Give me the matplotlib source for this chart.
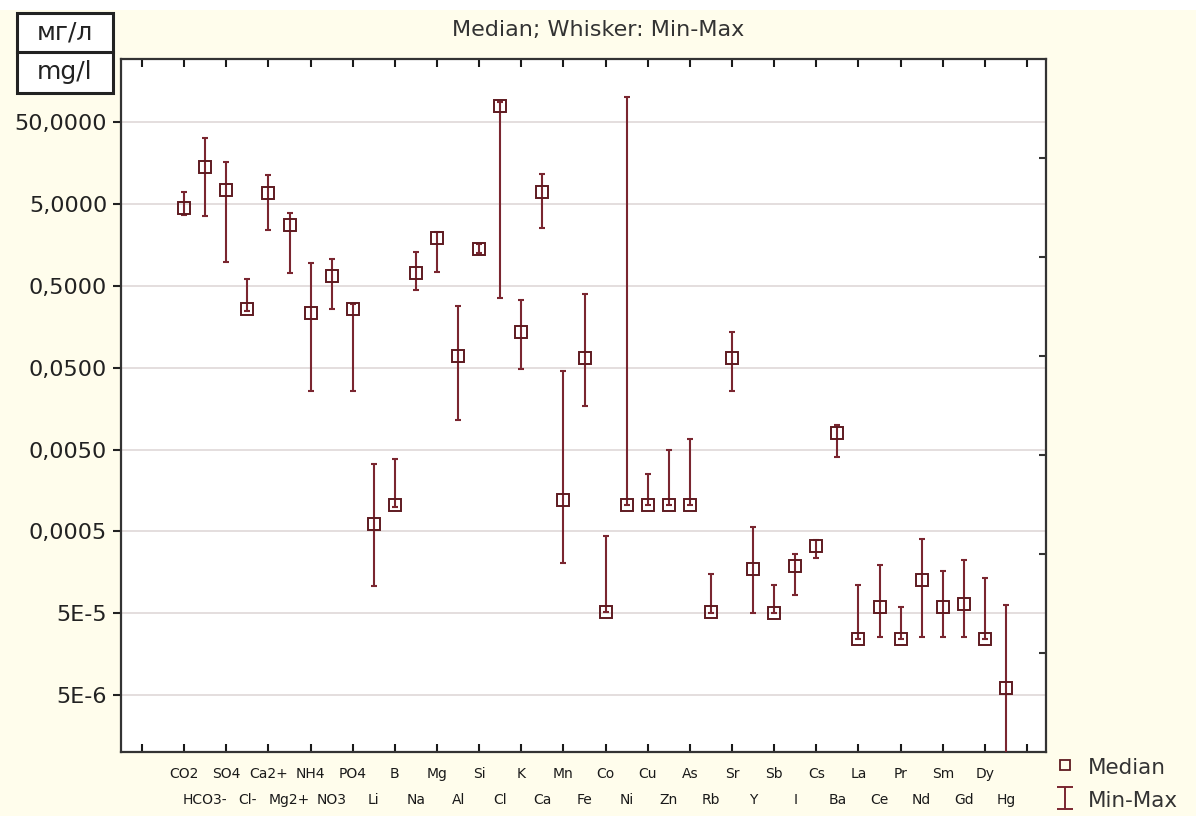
import matplotlib
matplotlib.use("Agg")
import matplotlib.pyplot as plt
import numpy as np
from matplotlib.patches import Rectangle
from matplotlib.lines import Line2D

categories = ["CO2", "HCO3-", "SO4", "Cl-", "Ca2+", "Mg2+", "NH4", "NO3", "PO4", "Li",
              "B", "Na", "Mg", "Al", "Si", "Cl", "K", "Ca", "Mn", "Fe",
              "Co", "Ni", "Cu", "Zn", "As", "Rb", "Sr", "Y", "Sb", "I",
              "Cs", "Ba", "La", "Ce", "Pr", "Nd", "Sm", "Gd", "Dy", "Hg"]

median = [4.46, 14.4, 7.45, 0.262, 6.79, 2.79, 0.233, 0.664, 0.261, 6.22e-4,
          1.06e-3, 0.729, 1.95, 0.0687, 1.42, 79.1, 0.135, 7.11, 1.22e-3, 0.0656,
          5.14e-5, 1.06e-3, 1.06e-3, 1.06e-3, 1.06e-3, 5.14e-5, 0.0656, 1.75e-4, 5.06e-5, 1.87e-4,
          3.29e-4, 7.98e-3, 2.45e-5, 5.98e-5, 2.45e-5, 1.28e-4, 5.98e-5, 6.56e-5, 2.45e-5, 6.14e-6]

maximum = [6.98, 31.9, 16.2, 0.605, 11.4, 3.87, 0.949, 1.06, 0.302, 3.33e-3,
           3.84e-3, 1.29, 2.31, 0.288, 1.62, 89.3, 0.338, 11.7, 0.0459, 0.397,
           4.45e-4, 102.8, 2.54e-3, 4.99e-3, 6.79e-3, 1.51e-4, 0.135, 5.67e-4, 1.10e-4, 2.68e-4,
           3.89e-4, 1.01e-2, 1.10e-4, 1.93e-4, 5.91e-5, 4.05e-4, 1.66e-4, 2.26e-4, 1.35e-4, 6.38e-5]

minimum = [3.69, 3.59, 0.99, 0.248, 2.42, 0.729, 0.0257, 0.261, 0.0257, 1.07e-4,
           1.0e-3, 0.44, 0.737, 0.0114, 1.28, 0.355, 0.0482, 2.54, 2.06e-4, 0.0172,
           5.14e-5, 1.04e-3, 1.04e-3, 1.04e-3, 1.04e-3, 5.1e-5, 0.0257, 5.06e-5, 5.0e-5, 8.45e-5,
           2.37e-4, 4.06e-3, 2.42e-5, 2.58e-5, 2.42e-5, 2.58e-5, 2.58e-5, 2.58e-5, 2.42e-5, 6.0e-7]

ytick_values = [5e-6, 5e-5, 5e-4, 5e-3, 5e-2, 0.5, 5, 50]
ytick_labels = ["5E-6", "5E-5", "0,0005", "0,0050", "0,0500", "0,5000", "5,0000", "50,0000"]

title = "Median; Whisker: Min-Max"

cream = "#FFFDEC"
dark = "#7A2630"
W, H = 1196, 816

fig = plt.figure(figsize=(W / 100, H / 100), dpi=100, facecolor=cream)
fig.patches.append(Rectangle((0, 1 - 10 / H), 1, 10 / H, transform=fig.transFigure,
                             facecolor="white", edgecolor="none", zorder=0))

ax = fig.add_axes([121 / W, (H - 752.3) / H, (1046 - 121) / W, (752.3 - 59.3) / H])
ax.set_facecolor("white")

x = np.arange(len(categories))
med = np.array(median)
mx = np.array(maximum)
mn = np.array(minimum)

ax.set_yscale("log")
ax.set_ylim(1.0e-6, 294)
ax.set_xlim(-3.0, 40.9)

eb = ax.errorbar(x, med, yerr=[med - mn, mx - med], fmt="none", ecolor=dark,
                 elinewidth=1.5, capsize=2.3, capthick=1.5, zorder=3)
mk, = ax.plot(x, med, ls="none", marker="s", markersize=8.5, markerfacecolor="none",
              markeredgecolor="#5E1A20", markeredgewidth=1.4, zorder=4)

# legend-only handles
leg_mk = Line2D([], [], ls="none", marker="s", markersize=6.5, markerfacecolor="none",
                markeredgecolor="#5E1A20", markeredgewidth=1.3)
leg_eb = ax.errorbar([np.nan], [np.nan], yerr=[[0], [0]], fmt="none", ecolor=dark,
                     elinewidth=1.4, capsize=6, capthick=1.4)

ax.set_yticks(ytick_values)
ax.set_yticklabels(ytick_labels)
ax.yaxis.set_minor_locator(matplotlib.ticker.NullLocator())
ax.tick_params(axis="y", which="major", direction="out", length=6, width=1.5,
               labelsize=16, pad=4, left=True, right=False, colors="#222222")

ax.grid(axis="y", which="major", color="#DCD4D4", linewidth=1.1, zorder=0)
ax.set_axisbelow(True)

# x ticks: major at even positions (top row labels), minor at odd (bottom row labels)
major_pos = list(range(-2, 41, 2))
major_lab = [""] + categories[0::2] + [""]
minor_pos = list(range(1, 40, 2))
minor_lab = categories[1::2]
ax.set_xticks(major_pos)
ax.set_xticklabels(major_lab)
ax.set_xticks(minor_pos, minor=True)
ax.set_xticklabels(minor_lab, minor=True)
ax.tick_params(axis="x", which="major", direction="in", length=6, width=1.5,
               top=True, bottom=True, labelsize=10, pad=10.5, colors="#1A1A1A")
ax.tick_params(axis="x", which="minor", length=0, labelsize=10, pad=29.5,
               top=False, bottom=False, colors="#1A1A1A")

for s in ax.spines.values():
    s.set_linewidth(1.6)
    s.set_color("#333333")

# right-side ticks dividing axis in 7 parts
ax2 = ax.twinx()
ax2.set_ylim(0, 7)
ax2.set_yticks(range(1, 7))
ax2.set_yticklabels([])
ax2.tick_params(axis="y", direction="in", length=5, width=1.5, colors="#333333")
ax2.spines[:].set_visible(False)

fig.text(0.5, 1 - 30 / H, title, ha="center", va="center", fontsize=16, color="#333333")

# units box
bx0, by0, bx1, by1 = 17 / W, 1 - 93 / H, 112.5 / W, 1 - 13.3 / H
fig.patches.append(Rectangle((bx0, by0), bx1 - bx0, by1 - by0, transform=fig.transFigure,
                             facecolor="white", edgecolor="#222222", linewidth=2.2))
fig.lines.append(Line2D([bx0, bx1], [1 - 52 / H, 1 - 52 / H], transform=fig.transFigure,
                        color="#222222", linewidth=2.2))
fig.text((bx0 + bx1) / 2, 1 - 33 / H, "мг/л", ha="center", va="center", fontsize=18, color="#222222")
fig.text((bx0 + bx1) / 2, 1 - 72 / H, "mg/l", ha="center", va="center", fontsize=18, color="#222222")

leg = fig.legend(handles=[leg_mk, leg_eb], labels=["Median", "Min-Max"], loc="lower left",
                 bbox_to_anchor=(1043 / W, -0.004), frameon=False, fontsize=15.5,
                 handlelength=1.2, handleheight=1.0, handletextpad=0.5, labelspacing=0.55,
                 borderaxespad=0.0)
for t in leg.get_texts():
    t.set_color("#333333")

fig.savefig("out.png", dpi=100, facecolor=cream)
